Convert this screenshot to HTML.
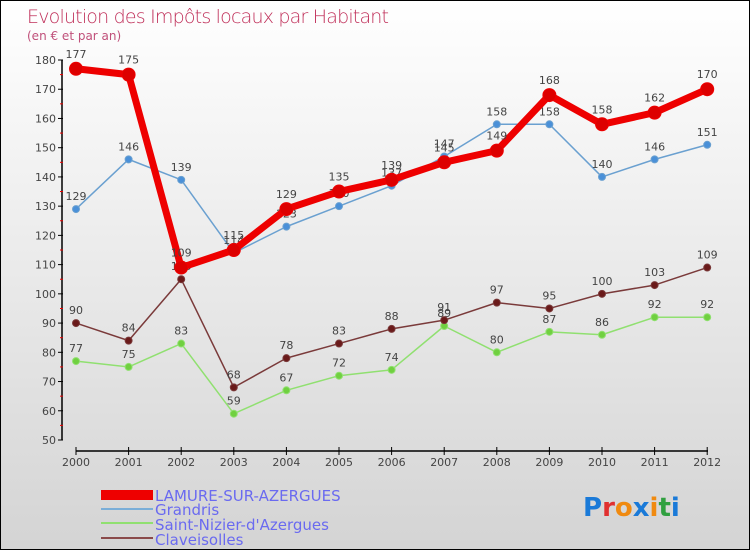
<!DOCTYPE html>
<html><head><meta charset="utf-8"><style>
body{margin:0}
#c{width:748px;height:548px;border:1px solid #000;background:linear-gradient(#fff,#d4d4d4);position:relative;font-family:"DejaVu Sans","Liberation Sans",sans-serif;overflow:hidden}
svg text{font-family:"DejaVu Sans","Liberation Sans",sans-serif}
</style></head><body>
<div id="c">
<svg id="s" width="748" height="548" xmlns="http://www.w3.org/2000/svg">
<text x="26" y="22" font-size="19" fill="#c0305a" style="font-weight:200" textLength="362">Evolution des Impôts locaux par Habitant</text>
<text x="26" y="39" font-size="12" fill="#c0507a">(en € et par an)</text>
<g id="axes"></g><g id="series"></g>
<g>
<rect x="100" y="489" width="52" height="10" fill="#e00"/>
<text x="154" y="500" font-size="15" fill="#6a6af0">LAMURE-SUR-AZERGUES</text>
<rect x="100" y="507" width="52" height="2" fill="#7aaed8"/>
<text x="154" y="514" font-size="15" fill="#6a6af0">Grandris</text>
<rect x="100" y="521" width="52" height="2" fill="#90e070"/>
<text x="154" y="529" font-size="15" fill="#6a6af0">Saint-Nizier-d'Azergues</text>
<rect x="100" y="536" width="52" height="2" fill="#8a4a4a"/>
<text x="154" y="544" font-size="15" fill="#6a6af0">Claveisolles</text>
</g>
<g font-size="26" font-weight="bold">
<text x="582" y="515"><tspan fill="#1a7ad8">P</tspan><tspan fill="#e03030">r</tspan><tspan fill="#f08a10">o</tspan><tspan fill="#1a7ad8">x</tspan><tspan fill="#f08a10">i</tspan><tspan fill="#30a040">t</tspan><tspan fill="#1a7ad8">i</tspan></text>
</g>
</svg></div>
<script>
const years=[2000,2001,2002,2003,2004,2005,2006,2007,2008,2009,2010,2011,2012];
const yTicks=[50,60,70,80,90,100,110,120,130,140,150,160,170,180];
const lamure=[177,175,109,115,129,135,139,145,149,168,158,162,170];
const grandris=[129,146,139,114,123,130,137,147,158,158,140,146,151];
const saintNizier=[77,75,83,59,67,72,74,89,80,87,86,92,92];
const claveisolles=[90,84,105,68,78,83,88,91,97,95,100,103,109];
const NS="http://www.w3.org/2000/svg";
const xS=i=>75+i*52.6;
const yS=v=>439-(v-50)*(380/130);
function mk(t,a,p){const e=document.createElementNS(NS,t);for(const k in a)e.setAttribute(k,a[k]);p.appendChild(e);return e;}
const ax=document.getElementById('axes');
let l=mk('line',{x1:61,y1:yS(180),x2:61,y2:yS(50),stroke:'#000','stroke-width':1.5},ax);


yTicks.forEach(v=>{
 mk('line',{x1:57,x2:62,y1:yS(v),y2:yS(v),stroke:'#000'},ax);
 if(v<180)mk('line',{x1:59,x2:62,y1:yS(v+5),y2:yS(v+5),stroke:'#e00'},ax);
 const t=mk('text',{x:55,y:yS(v)+4,'font-size':11,fill:'#444','text-anchor':'end'},ax);t.textContent=v;
 
 
});
l=mk('line',{x1:75,y1:450,x2:707,y2:450,stroke:'#000','stroke-width':1.5},ax);


years.forEach((y,i)=>{
 mk('line',{x1:xS(i),x2:xS(i),y1:446,y2:454,stroke:'#000'},ax);
 const t=mk('text',{x:xS(i),y:465,'font-size':11,fill:'#444','text-anchor':'middle'},ax);t.textContent=y;
 
 
});
const sg=document.getElementById('series');
function draw(vals,name,col,dot,w,r,lblDy){
 const g=mk('g',{},sg);
 
 
 const p=mk('polyline',{points:vals.map((v,i)=>xS(i)+','+yS(v)).join(' '),fill:'none',stroke:col,'stroke-width':w,'stroke-linejoin':'round'},g);
 
 
 vals.forEach((v,i)=>{
  const c=mk('circle',{cx:xS(i),cy:yS(v),r:r,fill:dot,stroke:col,'stroke-width':1},g);
  
  
  const t=mk('text',{x:xS(i),y:yS(v)-lblDy,'font-size':11,fill:'#444','text-anchor':'middle'},g);t.textContent=v;
  
  
 });
}
draw(saintNizier,'saint-nizier','#90e070','#70d040',1.5,3.5,9);
draw(claveisolles,'claveisolles','#7a3a3a','#6a1a1a',1.5,3.5,9);
draw(grandris,'grandris','#6aa0d0','#4a90d8',1.5,3.5,9);
draw(lamure,'lamure','#ee0000','#dd0000',7,6.5,11);
</script>
</body></html>
